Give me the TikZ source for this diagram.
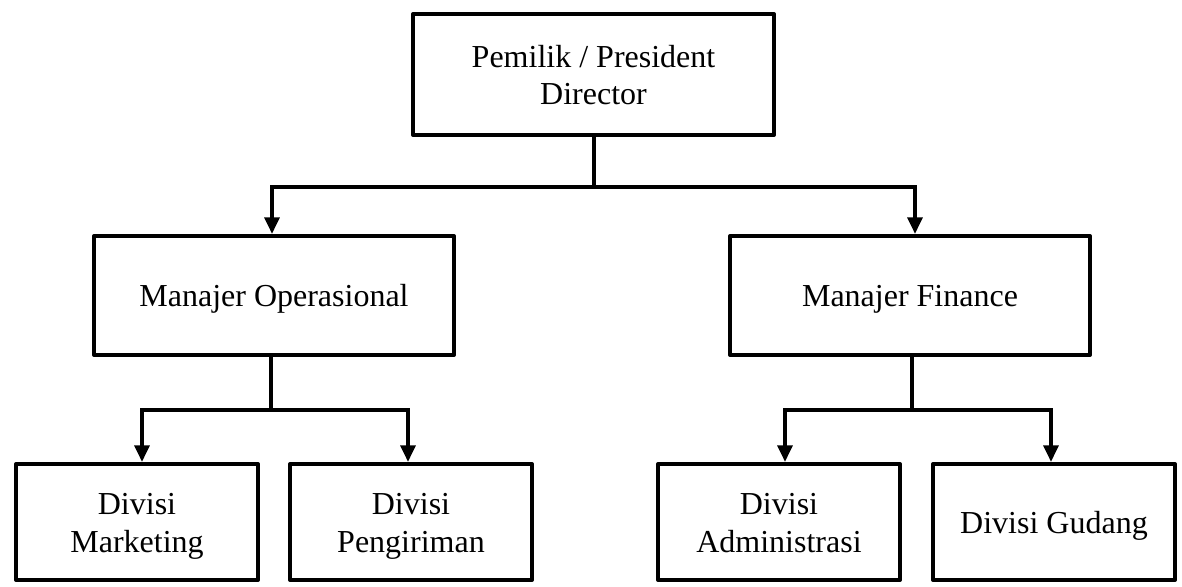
\documentclass[tikz,border=0pt]{standalone}
\usepackage{fontspec}
\setmainfont{Liberation Serif}
\usetikzlibrary{arrows.meta}
\newcommand\boxlines[1]{\raisebox{-3pt}[\height][\depth]{\begin{tabular}{@{}c@{}}#1\end{tabular}}}
\begin{document}
\begin{tikzpicture}[x=0.75pt,y=-0.75pt,
  box/.style={draw=black,line width=3pt,line join=round,inner sep=0pt,
    font=\fontsize{24}{28}\selectfont},
  topbox/.style={box,minimum width=270.75pt,minimum height=90.75pt},
  midbox/.style={box,minimum width=270pt,minimum height=89.25pt},
  botbox/.style={box,minimum width=181.5pt,minimum height=87pt},
  conn/.style={line width=3pt,draw=black},
  arr/.style={conn,-{Triangle[width=11pt,length=12.5pt]}}]
\useasboundingbox[fill=white] (0,0) rectangle (1182,586);
\node[topbox] (pd) at (593.5,74.5) {\boxlines{Pemilik / President\\Director}};
\node[midbox] (mo) at (274,295.5) {\boxlines{Manajer Operasional}};
\node[midbox] (mf) at (910,295.5) {\boxlines{Manajer Finance}};
\node[botbox] (dm) at (137,522) {\boxlines{Divisi\\Marketing}};
\node[botbox] (dp) at (411,522) {\boxlines{Divisi\\Pengiriman}};
\node[botbox] (da) at (779,522) {\boxlines{Divisi\\Administrasi}};
\node[botbox] (dg) at (1054,522) {\boxlines{Divisi Gudang}};
\coordinate (j1) at (593.5,187);
\coordinate (j2) at (271,410);
\coordinate (j3) at (912,410);
\draw[conn] (pd.south) -- (j1);
\draw[arr] (j1) -| ([xshift=-1.5pt]mo.north);
\draw[arr] (j1) -| ([xshift=3.75pt]mf.north);
\draw[conn] ([xshift=-2.25pt]mo.south) -- (j2);
\draw[arr] (j2) -| ([xshift=3.75pt]dm.north);
\draw[arr] (j2) -| ([xshift=-2.25pt]dp.north);
\draw[conn] ([xshift=1.5pt]mf.south) -- (j3);
\draw[arr] (j3) -| ([xshift=4.5pt]da.north);
\draw[arr] (j3) -| ([xshift=-2.25pt]dg.north);
\end{tikzpicture}
\end{document}
